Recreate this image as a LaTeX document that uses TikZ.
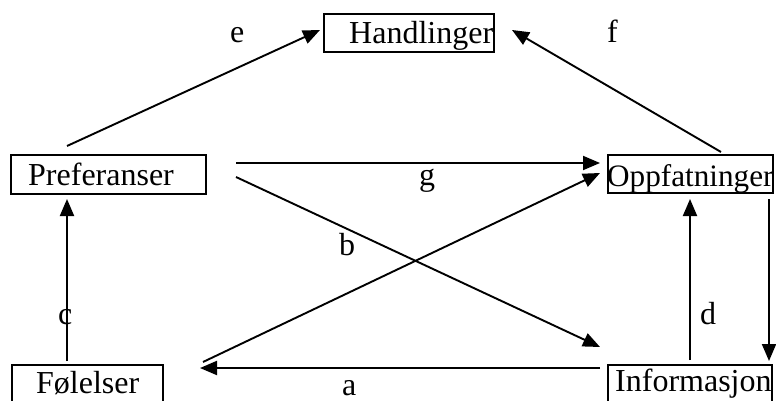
\documentclass[tikz,border=0pt]{standalone}
\usepackage{fontspec}
\setmainfont{Liberation Serif}
\usetikzlibrary{arrows.meta}
\begin{document}
\begin{tikzpicture}[x=1pt,y=-1pt,
  box/.style={draw,line width=1.9pt,inner sep=0pt},
  txt/.style={anchor=base west,inner sep=0pt,font=\fontsize{32}{38}\selectfont},
  conn/.style={line width=1.9pt,-{Triangle[length=17pt,width=14pt]}}]
\useasboundingbox (0,0) rectangle (776,401);
% boxes
\node[box,minimum width=170pt,minimum height=38pt] (H) at (409,33) {};
\node[box,minimum width=195pt,minimum height=39pt] (P) at (108.5,174.5) {};
\node[box,minimum width=165pt,minimum height=38pt] (O) at (690.5,174) {};
\node[box,minimum width=151pt,minimum height=38pt] (F) at (87.5,384) {};
\node[box,minimum width=164pt,minimum height=38pt] (I) at (690,384) {};
% box texts
\node[txt] (Ht) at (349,44) {Handlinger};
\node[txt] (Pt) at (28,185) {Preferanser};
\node[txt,font=\fontsize{31.2}{38}\selectfont] (Ot) at (607,186) {Oppfatninger};
\node[txt] (Ft) at (36,393) {Følelser};
\node[txt] (It) at (615,391) {Informasjon};
% labels
\node[txt] (le) at (230,43) {e};
\node[txt] (lf) at (607,43) {f};
\node[txt] (lg) at (419,185) {g};
\node[txt] (lb) at (339,255) {b};
\node[txt] (lc) at (58,324) {c};
\node[txt] (ld) at (700,324) {d};
\node[txt] (la) at (342,395) {a};
% connector end points
\coordinate (Pe) at (67,146);
\coordinate (He) at (320,30);
\coordinate (Of) at (721,152);
\coordinate (Hf) at (512,30);
\coordinate (Pg) at (236,163);
\coordinate (Og) at (600,163);
\coordinate (Pb) at (236,177);
\coordinate (Ib) at (600,347);
\coordinate (Fx) at (203,362);
\coordinate (Ox) at (600,173);
\coordinate (Ia) at (600,368);
\coordinate (Fa) at (200,368);
\coordinate (Fc) at (67,361);
\coordinate (Pc) at (67,199);
\coordinate (Id) at (690,360);
\coordinate (Od) at (690,199);
\coordinate (Or) at (769,199);
\coordinate (Ir) at (769,361);
% connectors
\draw[conn] (Pe) -- (He);
\draw[conn] (Of) -- (Hf);
\draw[conn] (Pg) -- (Og);
\draw[conn] (Pb) -- (Ib);
\draw[conn] (Fx) -- (Ox);
\draw[conn] (Ia) -- (Fa);
\draw[conn] (Fc) -- (Pc);
\draw[conn] (Id) -- (Od);
\draw[conn] (Or) -- (Ir);
\end{tikzpicture}
\end{document}
